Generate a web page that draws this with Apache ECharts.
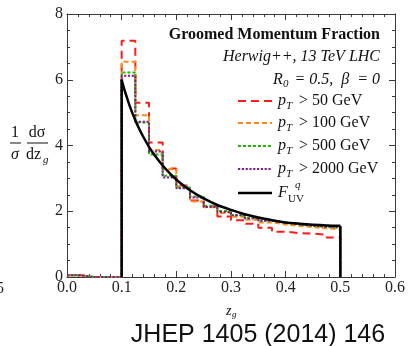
<!DOCTYPE html>
<html>
<head>
<meta charset="utf-8">
<script src="https://cdn.jsdelivr.net/npm/echarts/dist/echarts.min.js"></script>
<style>
  html, body { margin: 0; padding: 0; background: #fff; }
  #chart { width: 408px; height: 346px; }
</style>
</head>
<body>
<div id="chart"></div>
<script>
// Histogram bin lower edges (bin width 0.025), last edge closes the range
const binEdges = [0, 0.025, 0.05, 0.075, 0.1, 0.125, 0.15, 0.175, 0.2, 0.225,
                  0.25, 0.275, 0.3, 0.325, 0.35, 0.375, 0.4, 0.425, 0.45, 0.475];
const binEnd = 0.5;

// Herwig++ normalised z_g distributions for each jet pT cut
const pt50   = [0.05, 0, 0, 0, 7.19, 5.30, 4.09, 3.30, 2.78, 2.33, 2.15, 1.84, 1.73, 1.62, 1.50, 1.38, 1.33, 1.32, 1.28, 1.20];
const pt100  = [0.05, 0, 0, 0, 6.55, 4.92, 3.86, 3.28, 2.75, 2.30, 2.12, 1.95, 1.83, 1.74, 1.66, 1.60, 1.55, 1.52, 1.48, 1.45];
const pt500  = [0.05, 0, 0, 0, 6.22, 4.70, 3.73, 3.08, 2.72, 2.45, 2.17, 2.01, 1.88, 1.79, 1.72, 1.66, 1.60, 1.56, 1.52, 1.50];
const pt2000 = [0.05, 0, 0, 0, 6.12, 4.72, 3.82, 3.03, 2.70, 2.42, 2.13, 1.98, 1.88, 1.79, 1.71, 1.65, 1.60, 1.56, 1.53, 1.51];

// Analytic quark curve F_UV^q
const curveZ = [0.1, 0.105, 0.11, 0.115, 0.12, 0.125, 0.13, 0.14, 0.15, 0.16, 0.175, 0.19, 0.2,
                0.225, 0.25, 0.275, 0.3, 0.325, 0.35, 0.375, 0.4, 0.425, 0.45, 0.475, 0.5];
const curveF = [6.0, 5.70, 5.44, 5.19, 4.97, 4.77, 4.58, 4.25, 3.96, 3.71, 3.39, 3.12, 2.96,
                2.64, 2.39, 2.19, 2.04, 1.91, 1.81, 1.73, 1.66, 1.62, 1.59, 1.57, 1.56];

// Axis ticks
const xTicks = [0, 0.1, 0.2, 0.3, 0.4, 0.5, 0.6];
const yTicks = [0, 2, 4, 6, 8];

const SERIF = '"Liberation Serif", "DejaVu Serif", serif';

function stepData(vals) {
  const pts = binEdges.map((e, i) => [e, vals[i]]);
  pts.push([binEnd, vals[vals.length - 1]]);
  pts.push([binEnd, 0]);
  return pts;
}

function histSeries(name, vals, color, dash) {
  return {
    name: name, type: 'line', step: 'end', data: stepData(vals),
    symbol: 'none', silent: true,
    lineStyle: { color: color, width: 2, type: dash }
  };
}

const frameColor = '#3a3a3a';
function xAxisDef(pos, labels) {
  return {
    type: 'value', position: pos, min: xTicks[0], max: xTicks[xTicks.length - 1], interval: 0.1,
    axisLine: { show: true, onZero: false, lineStyle: { color: frameColor, width: 1 } },
    axisTick: { show: true, inside: true, length: 6, lineStyle: { color: frameColor } },
    minorTick: { show: true, splitNumber: 5, length: 3, lineStyle: { color: frameColor } },
    splitLine: { show: false },
    axisLabel: { show: labels, margin: 3, color: '#222', fontFamily: SERIF, fontSize: 16,
                 formatter: v => v.toFixed(1) }
  };
}
function yAxisDef(pos, labels) {
  return {
    type: 'value', position: pos, min: yTicks[0], max: yTicks[yTicks.length - 1], interval: 2,
    axisLine: { show: true, onZero: false, lineStyle: { color: frameColor, width: 1 } },
    axisTick: { show: true, inside: true, length: 6, lineStyle: { color: frameColor } },
    minorTick: { show: true, splitNumber: 4, length: 3, lineStyle: { color: frameColor } },
    splitLine: { show: false },
    axisLabel: { show: labels, margin: 4, color: '#222', fontFamily: SERIF, fontSize: 16 }
  };
}

const curvePts = curveZ.map((z, i) => [z, curveF[i]]);
const last = curveF.length - 1;

function txt(x, y, text, size, opts) {
  opts = opts || {};
  return {
    type: 'text', x: x, y: y, silent: true,
    style: {
      text: text, fill: opts.fill || '#111',
      font: (opts.style || 'normal') + ' ' + (opts.weight || 'normal') + ' ' + size + 'px ' + (opts.family || SERIF),
      textAlign: opts.align || 'left', textVerticalAlign: 'middle'
    }
  };
}
function sample(y, color, dash, width) {
  return {
    type: 'line', silent: true,
    shape: { x1: 238, y1: y, x2: 272, y2: y },
    style: { stroke: color, lineWidth: width || 2, lineDash: dash }
  };
}

const rows = [101, 123, 146, 169, 193];
const legendCuts = ['> 50 GeV', '> 100 GeV', '> 500 GeV', '> 2000 GeV'];
const colors = ['#ff1a1a', '#ff8c1a', '#22b800', '#7f1f8f'];
const dashes = [[8, 5], [5, 3], [3, 2], [2.2, 1.6]];

const graphics = [
  txt(380, 35, 'Groomed Momentum Fraction', 16, { weight: 'bold', align: 'right' }),
  txt(380, 57, 'Herwig++, 13 TeV LHC', 16, { style: 'italic', align: 'right' }),
  txt(273, 80, 'R', 16, { style: 'italic' }),
  txt(283, 84, '0', 11, { style: 'italic' }),
  txt(380, 80, '= 0.5,  β  = 0', 16, { style: 'italic', align: 'right' }),
  // y-axis title: (1/σ)(dσ/dz_g)
  txt(15, 133, '1', 16, { align: 'center' }),
  { type: 'line', silent: true, shape: { x1: 10, y1: 143, x2: 21, y2: 143 }, style: { stroke: '#111', lineWidth: 1 } },
  txt(15, 155, 'σ', 16, { align: 'center', style: 'italic' }),
  txt(37, 133, 'dσ', 16, { align: 'center' }),
  { type: 'line', silent: true, shape: { x1: 27, y1: 143, x2: 48, y2: 143 }, style: { stroke: '#111', lineWidth: 1 } },
  txt(26, 155, 'dz', 16, {}),
  txt(43, 160, 'g', 11, { style: 'italic' }),
  // x-axis title z_g
  txt(226, 311, 'z', 14, { style: 'italic' }),
  txt(232, 315, 'g', 9, { style: 'italic' }),
  // citation and clipped neighbour label
  txt(258, 335, 'JHEP 1405 (2014) 146', 25, { align: 'center', family: '"Liberation Sans", Arial, sans-serif', fill: '#111' }),
  txt(-4, 289, '5', 16, { fill: '#222' }),
  // F_UV^q entry
  sample(rows[4], '#000', null, 2.5),
  txt(278, rows[4], 'F', 16, { style: 'italic' }),
  txt(295, rows[4] - 8, 'q', 11, { style: 'italic' }),
  txt(288, rows[4] + 6, 'UV', 11, {})
];
legendCuts.forEach((lab, i) => {
  graphics.push(sample(rows[i], colors[i], dashes[i]));
  graphics.push(txt(278, rows[i], 'p', 16, { style: 'italic' }));
  graphics.push(txt(286, rows[i] + 5, 'T', 11, { style: 'italic' }));
  graphics.push(txt(299, rows[i], lab, 16, {}));
});

const chart = echarts.init(document.getElementById('chart'), null, { renderer: 'canvas' });
chart.setOption({
  animation: false,
  backgroundColor: '#fff',
  grid: { left: 67, right: 11, top: 14, bottom: 69, containLabel: false },
  xAxis: [xAxisDef('bottom', true), xAxisDef('top', false)],
  yAxis: [yAxisDef('left', true), yAxisDef('right', false)],
  series: [
    histSeries('pT > 50 GeV', pt50, colors[0], dashes[0]),
    histSeries('pT > 100 GeV', pt100, colors[1], dashes[1]),
    histSeries('pT > 500 GeV', pt500, colors[2], dashes[2]),
    histSeries('pT > 2000 GeV', pt2000, colors[3], dashes[3]),
    { name: 'F_UV^q', type: 'line', data: curvePts, smooth: 0.3,
      symbol: 'none', silent: true, lineStyle: { color: '#000', width: 2.5 } },
    { name: 'edge-lo', type: 'line', data: [[curveZ[0], 0], [curveZ[0], curveF[0]]],
      symbol: 'none', silent: true, lineStyle: { color: '#000', width: 2.5 } },
    { name: 'edge-hi', type: 'line', data: [[curveZ[last], curveF[last]], [curveZ[last], 0]],
      symbol: 'none', silent: true, lineStyle: { color: '#000', width: 2.5 } }
  ],
  graphic: graphics
});
</script>
</body>
</html>
